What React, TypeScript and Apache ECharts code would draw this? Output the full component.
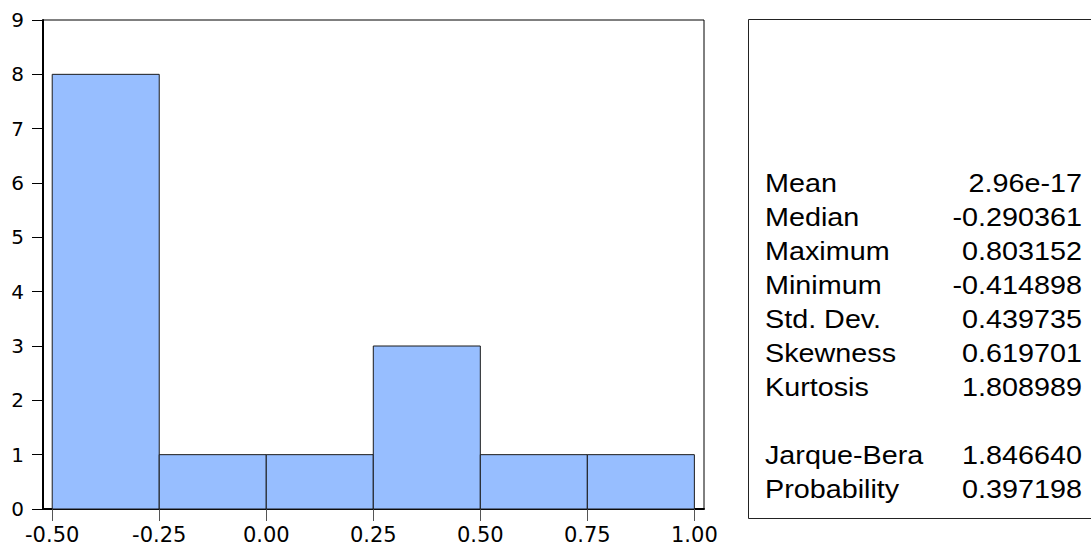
import React, { useEffect, useRef } from "react";
import * as echarts from "echarts";

const binStarts = [-0.5, -0.25, 0, 0.25, 0.5, 0.75];
const binWidth = 0.25;
const counts = [8, 1, 1, 3, 1, 1];
const xTicks = [-0.5, -0.25, 0, 0.25, 0.5, 0.75, 1.0];
const statLabels = ["Mean", "Median", "Maximum", "Minimum", "Std. Dev.", "Skewness", "Kurtosis", "", "Jarque-Bera", "Probability"];
const statValues = ["2.96e-17", "-0.290361", "0.803152", "-0.414898", "0.439735", "0.619701", "1.808989", "", "1.846640", "0.397198"];

export default function App() {
  const ref = useRef<HTMLDivElement>(null);
  useEffect(() => {
    if (!ref.current) return;
    const chart = echarts.init(ref.current, null, { renderer: "svg" });
    const data = binStarts.map((s, i) => [s, s + binWidth, counts[i]]);
    const statFont = "Liberation Sans, Arial, sans-serif";
    const graphics: any[] = [
      {
        type: "rect",
        shape: { x: 748.5, y: 19.5, width: 400, height: 499 },
        style: { fill: "none", stroke: "#222", lineWidth: 1 },
        silent: true,
      },
    ];
    statLabels.forEach((lab, i) => {
      if (!lab) return;
      const y = 184 + 34 * i;
      graphics.push({
        type: "text",
        x: 765,
        y,
        scaleX: 1.15,
        style: { text: lab, fontSize: 25, fontFamily: statFont, fill: "#000", align: "left", verticalAlign: "middle" },
      });
      graphics.push({
        type: "text",
        x: 1082,
        y,
        scaleX: 1.15,
        style: { text: statValues[i], fontSize: 25, fontFamily: statFont, fill: "#000", align: "right", verticalAlign: "middle" },
      });
    });
    chart.setOption({
      animation: false,
      backgroundColor: "#fff",
      grid: { left: 43, top: 20, width: 661, height: 489, show: true, borderColor: "#000", borderWidth: 1, backgroundColor: "transparent" },
      xAxis: {
        type: "value",
        min: -0.5215,
        max: 1.0225,
        axisLine: { show: true, onZero: false, lineStyle: { color: "#000", width: 2 } },
        axisTick: { show: true, customValues: xTicks, length: 12, inside: false, lineStyle: { color: "#555", width: 1 } },
        axisLabel: {
          customValues: xTicks,
          formatter: (v: number) => v.toFixed(2),
          fontFamily: "DejaVu Sans",
          fontSize: 21,
          color: "#000",
          margin: 15,
        },
        splitLine: { show: false },
      },
      yAxis: {
        type: "value",
        min: 0,
        max: 9,
        interval: 1,
        axisLine: { show: true, onZero: false, lineStyle: { color: "#000", width: 2 } },
        axisTick: { show: true, length: 11, inside: false, lineStyle: { color: "#000", width: 1 } },
        axisLabel: {
          fontFamily: "DejaVu Sans",
          fontSize: 20,
          color: "#000",
          margin: 19,
          padding: [0, 0, 10, 0],
        },
        splitLine: { show: false },
      },
      series: [
        {
          type: "custom",
          data,
          encode: { x: [0, 1], y: 2 },
          renderItem: (params: any, api: any) => {
            const s = api.value(0);
            const e = api.value(1);
            const c = api.value(2);
            const p0 = api.coord([s, c]);
            const p1 = api.coord([e, 0]);
            return {
              type: "rect",
              shape: { x: p0[0], y: p0[1], width: p1[0] - p0[0], height: p1[1] - p0[1] },
              style: { fill: "#97BEFF", stroke: "#1a1a1a", lineWidth: 1 },
            };
          },
        },
      ],
      graphic: graphics,
    });
    return () => chart.dispose();
  }, []);
  return <div ref={ref} style={{ position: "fixed", left: 0, top: 0, width: 1091, height: 554 }} />;
}
